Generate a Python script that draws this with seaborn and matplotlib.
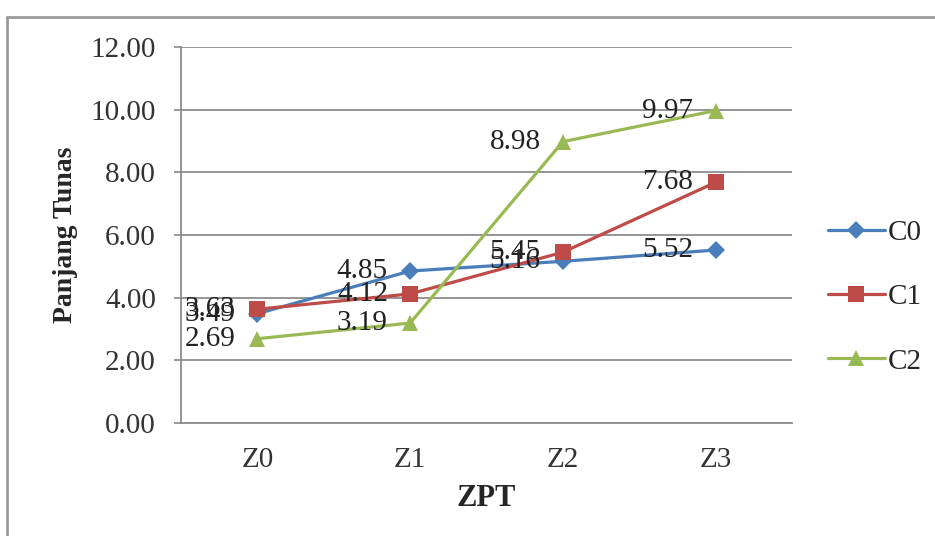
import matplotlib
matplotlib.use("Agg")
import matplotlib.pyplot as plt
import seaborn as sns
import pandas as pd
from matplotlib.lines import Line2D

categories = ["Z0", "Z1", "Z2", "Z3"]
c0 = [3.49, 4.85, 5.16, 5.52]
c1 = [3.63, 4.12, 5.45, 7.68]
c2 = [2.69, 3.19, 8.98, 9.97]
series_names = ["C0", "C1", "C2"]
yticks = [0, 2, 4, 6, 8, 10, 12]

rows = []
for name, vals in zip(series_names, [c0, c1, c2]):
    for cat, v in zip(categories, vals):
        rows.append({"ZPT": cat, "val": v, "series": name})
df = pd.DataFrame(rows)

sns.set_style("white")
plt.rcParams["font.family"] = ["Liberation Serif", "DejaVu Serif"]

colors = {"C0": "#4A7EBB", "C1": "#BE4B48", "C2": "#98B954"}
markers = {"C0": "D", "C1": "s", "C2": "^"}
msizes = {"C0": 9, "C1": 12, "C2": 12}
FS = 21

fig = plt.figure(figsize=(9.35, 5.36), dpi=100)
ax = fig.add_axes([181/935, 1-423/536, (792-181)/935, (423-47)/536])

for name in series_names:
    sub = df[df["series"] == name]
    sns.lineplot(data=sub, x="ZPT", y="val", color=colors[name], marker=markers[name],
                 markersize=msizes[name], linewidth=2.3, markeredgewidth=0,
                 ax=ax, legend=False, sort=False)

for name, vals in zip(series_names, [c0, c1, c2]):
    for i, v in enumerate(vals):
        ax.annotate(f"{v:.2f}", xy=(i, v), xytext=(-16, 0), textcoords="offset points",
                    ha="right", va="center", fontsize=FS, color="#222222")

ax.set_xlim(-0.5, 3.5)
ax.set_ylim(0, 12)
ax.set_yticks(yticks)
ax.set_yticklabels([f"{t:.2f}" for t in yticks], fontsize=FS, color="#333333")
ax.tick_params(axis="y", length=5, width=1.2, color="#888888", pad=13, direction="out", left=True)
ax.tick_params(axis="x", length=0, pad=17, labelsize=FS, labelcolor="#333333")
ax.grid(axis="y", color="#8c8c8c", linewidth=1.3)
ax.grid(axis="x", visible=False)
ax.set_axisbelow(True)
for s in ["top", "right"]:
    ax.spines[s].set_visible(False)
for s in ["left", "bottom"]:
    ax.spines[s].set_color("#8c8c8c")
    ax.spines[s].set_linewidth(1.3)

ax.set_xlabel("ZPT", fontsize=22, fontweight="bold", labelpad=8)
ax.set_ylabel("Panjang Tunas", fontsize=20, fontweight="bold", labelpad=9)

handles = [Line2D([0], [0], color=colors[n], marker=markers[n], markersize=msizes[n],
                  linewidth=2.3, markeredgewidth=0) for n in series_names]
fig.legend(handles, series_names, loc="center left", bbox_to_anchor=(828/935, 1-297/536),
           frameon=False, fontsize=FS, labelspacing=1.3, handlelength=1.95,
           handletextpad=0.1, borderpad=0, borderaxespad=0)

fig.add_artist(Line2D([7/935, 7/935], [0, 1-17/536], transform=fig.transFigure,
                      color="#9a9a9a", linewidth=2))
fig.add_artist(Line2D([7/935, 1], [1-17/536, 1-17/536], transform=fig.transFigure,
                      color="#9a9a9a", linewidth=2))

fig.savefig("out.png", dpi=100)
